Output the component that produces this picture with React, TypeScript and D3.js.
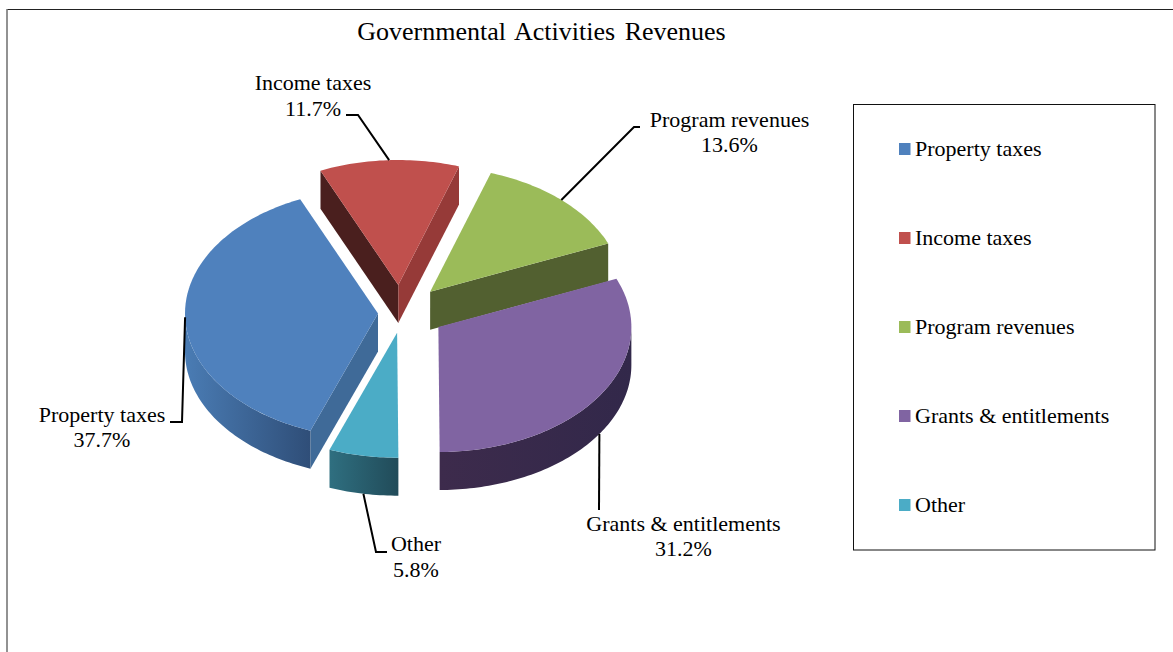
import React from "react";
import * as d3 from "d3";

const categories = ["Property taxes", "Income taxes", "Program revenues", "Grants & entitlements", "Other"];
const shares = [37.7, 11.7, 13.6, 31.2, 5.8];
const shareLabels = ["37.7%", "11.7%", "13.6%", "31.2%", "5.8%"];
const topColors = ["#4f81bd", "#c0504d", "#9bbb59", "#8064a2", "#4bacc6"];
const startWallColors = ["#3f6a98", "#4a1f1e", "#5a6f33", "#3a2c4e", "#2c6b7c"];
const endWallColors = ["#3f6a98", "#963a38", "#526030", "#3a2c4e", "#2c6b7c"];
const outerLeft = ["#4a7cb4", "#7a2f2d", "#5a6f33", "#3d2b4c", "#2f6f80"];
const outerRight = ["#2f4e78", "#5a1f1e", "#526030", "#32284a", "#214b59"];
const explodeBy = [27, 36, 37, 40, 28];
const nudgeX = [0, -5, 0, 0, -3];
const nudgeY = [1, 0, 0, -1.5, 0];
const drawOrder = [1, 2, 0, 3, 4];

const W = 1173, H = 652;
const CX = 405, CY = 312, RX = 193, RY = 125, DEPTH = 38, EXPLODE_Y = 0.75;
const FIRST_ANGLE = (200.5 * Math.PI) / 180;
const SERIF = "'Liberation Serif', serif";

// label blocks: centre x, first baseline, and the leader's elbow points
const labelPos = [
  { x: 102, y: 421.5, leader: [[182, 422], [170, 422]] },
  { x: 313, y: 90, leader: [[358, 115], [346, 115]] },
  { x: 729.5, y: 126.5, leader: [[634, 127], [640, 127]] },
  { x: 683.5, y: 530.5, leader: [[599, 510]] },
  { x: 416, y: 551, leader: [[376, 552], [387, 552]] },
];

const pieGen = d3.pie<number>().sort(null).startAngle(FIRST_ANGLE).endAngle(FIRST_ANGLE + 2 * Math.PI);
const arcs = pieGen(shares);
const line = d3.line<[number, number]>();

function sample(a0: number, a1: number, ox: number, oy: number): [number, number][] {
  const n = Math.max(2, Math.ceil(Math.abs(a1 - a0) / 0.02));
  return d3.range(n + 1).map((i) => {
    const a = a0 + ((a1 - a0) * i) / n;
    return [ox + RX * Math.sin(a), oy - RY * Math.cos(a)] as [number, number];
  });
}

const slices = arcs.map((d, i) => {
  const mid = (d.startAngle + d.endAngle) / 2;
  const ox = CX + explodeBy[i] * Math.sin(mid) + nudgeX[i];
  const oy = CY - explodeBy[i] * EXPLODE_Y * Math.cos(mid) + nudgeY[i];
  return { i, a0: d.startAngle, a1: d.endAngle, mid, ox, oy };
});

// Front of the rim: parts of the arc between 90 and 270 degrees, in any turn
function frontRange(a0: number, a1: number): [number, number] | null {
  const turn = 2 * Math.PI;
  for (const k of [0, 1]) {
    const lo = Math.max(a0, Math.PI / 2 + k * turn);
    const hi = Math.min(a1, (3 * Math.PI) / 2 + k * turn);
    if (hi > lo) return [lo, hi];
  }
  return null;
}

function wall(a: number, ox: number, oy: number): string {
  const x = ox + RX * Math.sin(a), y = oy - RY * Math.cos(a);
  return line([[ox, oy], [x, y], [x, y + DEPTH], [ox, oy + DEPTH]])! + "Z";
}

export default function App() {
  return (
    <svg width={W} height={H} viewBox={`0 0 ${W} ${H}`} style={{ position: "absolute", left: 0, top: 0, display: "block", background: "#fff" }}>
      <defs>
        {slices.map((s) => (
          <linearGradient key={s.i} id={`rim${s.i}`} x1="0" x2="1" y1="0" y2="0">
            <stop offset="0" stopColor={outerLeft[s.i]} />
            <stop offset="1" stopColor={outerRight[s.i]} />
          </linearGradient>
        ))}
      </defs>

      <line x1={7} y1={9.5} x2={W} y2={9.5} stroke="#222" strokeWidth={1} />
      <line x1={7} y1={9} x2={7} y2={H} stroke="#777" strokeWidth={1.6} />

      <text x={541.5} y={40} textAnchor="middle" fontFamily={SERIF} fontSize={26} wordSpacing={3} fill="#000">Governmental Activities Revenues</text>

      {drawOrder.map((idx) => {
        const s = slices[idx];
        const front = frontRange(s.a0, s.a1);
        return (
          <g key={idx}>
            {Math.sin(s.a0) < 0 && <path d={wall(s.a0, s.ox, s.oy)} fill={startWallColors[idx]} />}
            {Math.sin(s.a1) > 0.02 && <path d={wall(s.a1, s.ox, s.oy)} fill={endWallColors[idx]} />}
            {front && (
              <path
                d={line([...sample(front[0], front[1], s.ox, s.oy), ...sample(front[1], front[0], s.ox, s.oy + DEPTH)])! + "Z"}
                fill={`url(#rim${idx})`}
              />
            )}
            <path d={line([[s.ox, s.oy], ...sample(s.a0, s.a1, s.ox, s.oy)])! + "Z"} fill={topColors[idx]} />
          </g>
        );
      })}

      {slices.map((s) => {
        const ax = s.ox + RX * Math.sin(s.mid);
        const base = s.oy - RY * Math.cos(s.mid);
        const onFront = Math.cos(s.mid) < 0 && Math.abs(Math.sin(s.mid)) < 0.9;
        const p = labelPos[s.i];
        return (
          <g key={s.i}>
            <path d={line([[ax, onFront ? base + DEPTH : base], ...(p.leader as [number, number][])])!} fill="none" stroke="#000" strokeWidth={2} />
            <text textAnchor="middle" fontFamily={SERIF} fontSize={22} fill="#000">
              <tspan x={p.x} y={p.y}>{categories[s.i]}</tspan>
              <tspan x={p.x} y={p.y + 25.5}>{shareLabels[s.i]}</tspan>
            </text>
          </g>
        );
      })}

      <rect x={853.5} y={104.5} width={301.5} height={445.5} fill="none" stroke="#111" strokeWidth={1} />
      {categories.map((c, i) => {
        const y = d3.scaleLinear().domain([0, 4]).range([156, 512])(i);
        return (
          <g key={c}>
            <rect x={899} y={y - 13} width={11.5} height={12} fill={topColors[i]} />
            <text x={915} y={y} fontFamily={SERIF} fontSize={22} fill="#000">{c}</text>
          </g>
        );
      })}
    </svg>
  );
}
